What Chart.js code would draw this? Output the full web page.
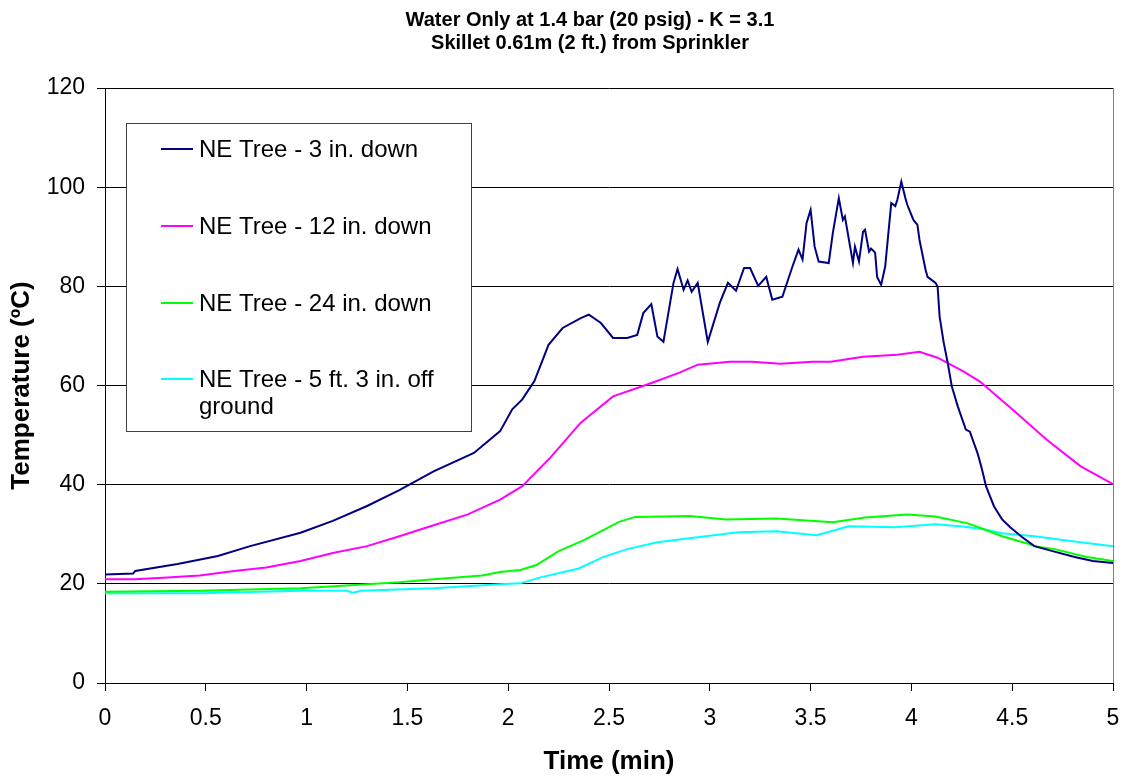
<!DOCTYPE html>
<html>
<head>
<meta charset="utf-8">
<title>Water Only at 1.4 bar - Skillet 0.61m from Sprinkler</title>
<script src="https://cdn.jsdelivr.net/npm/chart.js@4.4.1/dist/chart.umd.min.js"></script>
<style>
  body { margin: 0; background: #fff; }
  #chart { display: block; }
</style>
</head>
<body>
<canvas id="chart" width="1125" height="778"></canvas>
<script>
//chart text
const titleLines = [
  "Water Only at 1.4 bar (20 psig) - K = 3.1",
  "Skillet 0.61m (2 ft.) from Sprinkler",
];
const xTitle = "Time (min)";
const yTitle = "Temperature (ºC)";

//series names, the last one wraps onto two lines in the legend
const seriesNames = [
  ["NE Tree - 3 in. down"],
  ["NE Tree - 12 in. down"],
  ["NE Tree - 24 in. down"],
  ["NE Tree - 5 ft. 3 in. off", "ground"],
];
const seriesColors = ["#000080", "#FF00FF", "#00FF00", "#00FFFF"];

//NE Tree - 3 in. down (times in min, temps in C)
const time3in = [
  0, 0.14, 0.15, 0.36, 0.56, 0.72, 0.97, 1.13, 1.3, 1.46, 1.63, 1.83, 1.96,
  2.02, 2.07, 2.13, 2.2, 2.27, 2.36, 2.4, 2.46, 2.52, 2.59, 2.64, 2.67, 2.71,
  2.74, 2.77, 2.82, 2.84, 2.87, 2.89, 2.91, 2.94, 2.99, 3.05, 3.09, 3.13, 3.17,
  3.2, 3.24, 3.28, 3.31, 3.36, 3.41, 3.44, 3.46, 3.48, 3.5, 3.52, 3.54, 3.59,
  3.61, 3.64, 3.66, 3.67, 3.71, 3.72, 3.74, 3.76, 3.77, 3.79, 3.8, 3.82, 3.83,
  3.85, 3.87, 3.9, 3.92, 3.93, 3.95, 3.97, 3.98, 4.01, 4.03, 4.04, 4.07, 4.08,
  4.12, 4.13, 4.14, 4.16, 4.18, 4.2, 4.23, 4.27, 4.29, 4.33, 4.35, 4.37, 4.41,
  4.45, 4.49, 4.55, 4.61, 4.7, 4.81, 4.9, 5,
];
const temp3in = [
  21.9, 22.1, 22.6, 24.0, 25.6, 27.6, 30.3, 32.7, 35.7, 38.9, 42.7, 46.4, 50.8,
  55.2, 57.2, 60.9, 68.2, 71.6, 73.6, 74.3, 72.6, 69.6, 69.6, 70.2, 74.6, 76.4,
  69.9, 68.8, 80.7, 83.5, 79.3, 81.2, 78.9, 80.7, 68.8, 76.7, 80.7, 79.1, 83.7,
  83.7, 80.1, 81.9, 77.3, 77.9, 84.0, 87.4, 85.4, 92.8, 95.4, 88.0, 85.0, 84.7,
  90.7, 97.8, 93.4, 94.1, 84.7, 88.0, 85.0, 91.0, 91.4, 87.0, 87.6, 86.8, 81.9,
  80.3, 84.0, 96.8, 96.2, 97.4, 101.1, 97.8, 96.4, 93.4, 92.4, 89.4, 83.4, 81.9,
  80.7, 79.9, 73.9, 68.7, 64.6, 59.9, 55.8, 51.1, 50.7, 46.1, 43.1, 39.7, 35.6,
  33.0, 31.4, 29.4, 27.6, 26.6, 25.4, 24.6, 24.2,
];

//NE Tree - 12 in. down
const time12in = [
  0, 0.15, 0.31, 0.47, 0.64, 0.8, 0.97, 1.13, 1.3, 1.46, 1.63, 1.8, 1.96, 2.07,
  2.21, 2.36, 2.52, 2.69, 2.85, 2.94, 3.1, 3.21, 3.35, 3.51, 3.6, 3.76, 3.93,
  4.04, 4.13, 4.26, 4.34, 4.5, 4.67, 4.84, 5,
];
const temp12in = [
  20.9, 20.9, 21.3, 21.7, 22.6, 23.3, 24.6, 26.2, 27.6, 29.6, 31.8, 34.0, 37.0,
  39.7, 45.5, 52.5, 57.8, 60.2, 62.6, 64.2, 64.8, 64.8, 64.4, 64.8, 64.8, 65.8,
  66.2, 66.8, 65.6, 62.8, 60.8, 55.2, 49.1, 43.7, 40.1,
];

//NE Tree - 24 in. down
const time24in = [
  0, 0.47, 0.97, 1.3, 1.46, 1.63, 1.87, 1.96, 2.06, 2.14, 2.25, 2.37, 2.45,
  2.55, 2.63, 2.9, 3.08, 3.33, 3.61, 3.77, 3.98, 4.12, 4.28, 4.36, 4.45, 4.57,
  4.61, 4.71, 4.87, 5,
];
const temp24in = [
  18.4, 18.6, 19.1, 19.9, 20.3, 20.9, 21.7, 22.4, 22.8, 23.8, 26.6, 28.7, 30.4,
  32.5, 33.5, 33.7, 33.0, 33.2, 32.4, 33.4, 34.0, 33.6, 32.2, 31.0, 29.6, 28.2,
  27.6, 27.0, 25.4, 24.6,
];

//NE Tree - 5 ft. 3 in. off ground
const time5ft = [
  0, 0.47, 0.97, 1.2, 1.23, 1.27, 1.63, 1.96, 2.06, 2.16, 2.35, 2.47, 2.59,
  2.74, 2.94, 3.14, 3.33, 3.53, 3.69, 3.92, 4.12, 4.24, 4.36, 4.45, 4.61, 4.8,
  5,
];
const temp5ft = [
  18.1, 18.1, 18.6, 18.6, 18.2, 18.6, 19.1, 19.9, 20.1, 21.3, 23.1, 25.4, 27.0,
  28.4, 29.4, 30.4, 30.6, 29.8, 31.6, 31.4, 32.0, 31.6, 31.0, 30.2, 29.6, 28.6,
  27.6,
];

//axis ranges
const xMin = 0, xMax = 5, xStep = 0.5;
const yMin = 0, yMax = 120, yStep = 20;

const fontFamily = "Arial, 'Liberation Sans', sans-serif";

//turns the time and temp arrays into {x, y} points
function toPoints(times, temps) {
  return times.map((t, i) => ({ x: t, y: temps[i] }));
}

const seriesData = [
  toPoints(time3in, temp3in),
  toPoints(time12in, temp12in),
  toPoints(time24in, temp24in),
  toPoints(time5ft, temp5ft),
];

//draws the two line title, the plot frame and the boxed legend
const decorPlugin = {
  id: "decor",
  afterDraw(chart) {
    const ctx = chart.ctx;
    const area = chart.chartArea;
    ctx.save();

    //frame round the plot area (right side is grey like the original)
    ctx.strokeStyle = "#808080";
    ctx.lineWidth = 1;
    ctx.beginPath();
    ctx.moveTo(area.right + 0.5, area.top);
    ctx.lineTo(area.right + 0.5, area.bottom);
    ctx.stroke();

    //title
    ctx.fillStyle = "#000";
    ctx.font = "bold 20px " + fontFamily;
    ctx.textAlign = "center";
    ctx.textBaseline = "alphabetic";
    ctx.fillText(titleLines[0], 590, 26);
    ctx.fillText(titleLines[1], 590, 49);

    //legend box
    const box = { left: 126, top: 123, right: 471, bottom: 431 };
    ctx.fillStyle = "#fff";
    ctx.fillRect(box.left, box.top, box.right - box.left, box.bottom - box.top);
    ctx.strokeStyle = "#404040";
    ctx.strokeRect(box.left + 0.5, box.top + 0.5, box.right - box.left, box.bottom - box.top);

    const rowY = [149, 226, 303, 379];
    ctx.font = "24px " + fontFamily;
    ctx.textAlign = "left";
    ctx.textBaseline = "middle";
    seriesNames.forEach((lines, i) => {
      ctx.strokeStyle = seriesColors[i];
      ctx.lineWidth = 2;
      ctx.beginPath();
      ctx.moveTo(161, rowY[i]);
      ctx.lineTo(193, rowY[i]);
      ctx.stroke();
      ctx.fillStyle = "#000";
      lines.forEach((text, j) => {
        ctx.fillText(text, 199, rowY[i] + 1 + j * 27);
      });
    });

    ctx.restore();
  },
};

const chart = new Chart(document.getElementById("chart"), {
  type: "line",
  data: {
    datasets: seriesData.map((points, i) => ({
      label: seriesNames[i].join(" "),
      data: points,
      borderColor: seriesColors[i],
      borderWidth: 2,
      pointRadius: 0,
      tension: 0,
      fill: false,
    })),
  },
  options: {
    responsive: false,
    animation: false,
    layout: {
      padding: { top: 88, right: 12, left: 0, bottom: 0 },
    },
    plugins: {
      legend: { display: false },
      title: { display: false },
      tooltip: { enabled: false },
    },
    scales: {
      x: {
        type: "linear",
        min: xMin,
        max: xMax,
        ticks: {
          stepSize: xStep,
          color: "#000",
          font: { family: fontFamily, size: 23 },
          padding: 14,
          maxRotation: 0,
          //show 1, 2 ... not 1.0, 2.0
          callback: (value) => String(Math.round(value * 10) / 10),
        },
        grid: {
          drawOnChartArea: false,
          drawTicks: true,
          tickLength: 8,
          tickColor: "#000",
        },
        border: { display: true, color: "#000", width: 1 },
        title: {
          display: true,
          text: xTitle,
          color: "#000",
          font: { family: fontFamily, size: 26, weight: "bold" },
          padding: { top: 0, bottom: 1 },
        },
        afterFit(scale) {
          scale.height = 95;
          //the last label fits inside the right padding, so no extra room
          scale.paddingLeft = 0;
          scale.paddingRight = 0;
        },
      },
      y: {
        type: "linear",
        min: yMin,
        max: yMax,
        ticks: {
          stepSize: yStep,
          color: "#000",
          font: { family: fontFamily, size: 23 },
          padding: 12,
        },
        grid: {
          color: "#000",
          lineWidth: 1,
          drawTicks: true,
          tickLength: 8,
          tickColor: "#000",
        },
        border: { display: true, color: "#000", width: 1 },
        title: {
          display: true,
          text: yTitle,
          color: "#000",
          font: { family: fontFamily, size: 26, weight: "bold" },
          padding: { top: 6, bottom: 0 },
        },
        afterFit(scale) {
          scale.width = 105;
          scale.paddingTop = 0;
          scale.paddingBottom = 0;
        },
      },
    },
  },
  plugins: [decorPlugin],
});
</script>
</body>
</html>
